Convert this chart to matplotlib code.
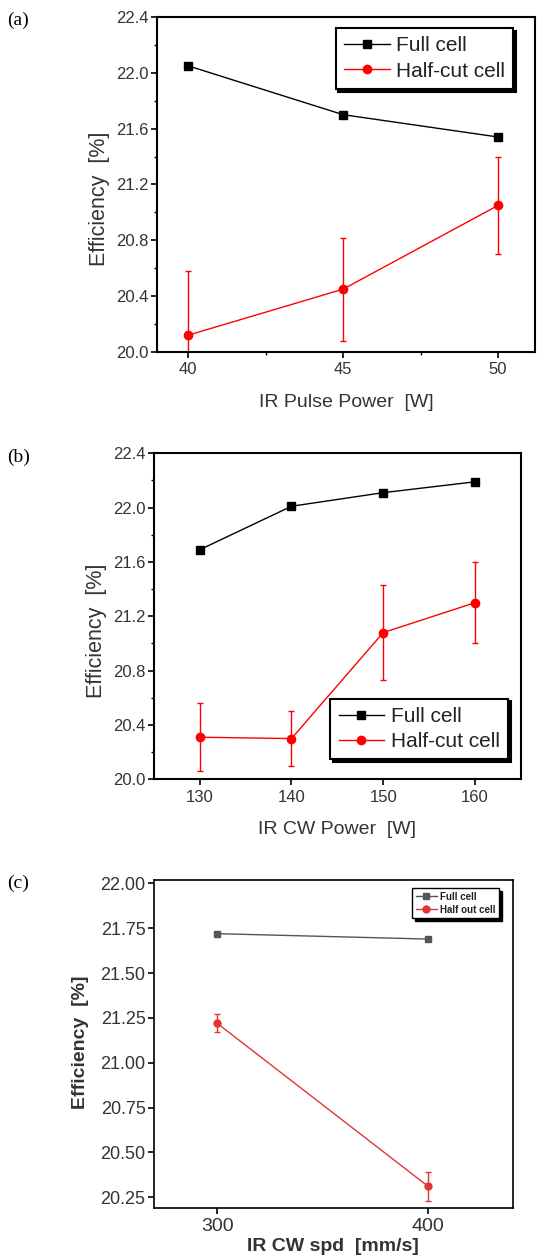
import matplotlib
matplotlib.use("Agg")
import matplotlib.pyplot as plt
from matplotlib.ticker import MultipleLocator, FixedLocator, FormatStrFormatter

plt.rcParams['font.family'] = ['Liberation Sans', 'DejaVu Sans']

# (a) IR pulse power
pulse_power = [40, 45, 50]
pulse_full = [22.05, 21.70, 21.54]
pulse_half = [20.12, 20.45, 21.05]
pulse_half_err = [0.46, 0.37, 0.35]

# (b) IR CW power
cw_power = [130, 140, 150, 160]
cw_full = [21.69, 22.01, 22.11, 22.19]
cw_half = [20.31, 20.30, 21.08, 21.30]
cw_half_err = [0.25, 0.20, 0.35, 0.30]

# (c) IR CW speed
cw_speed = [300, 400]
spd_full = [21.72, 21.69]
spd_half = [21.22, 20.31]
spd_half_err = [0.05, 0.08]

fig = plt.figure(figsize=(5.38, 12.57), dpi=100)


def style_axes(ax, lw=1.5):
    for s in ax.spines.values():
        s.set_linewidth(lw)
    ax.tick_params(axis='both', which='major', direction='out', length=4, width=1.2,
                   labelsize=12, colors='black', labelcolor='#333333')
    ax.tick_params(axis='both', which='minor', direction='out', length=2.5, width=1.0)
    ax.tick_params(axis='y', pad=2)


def add_legend(ax, loc, fontsize, bbox, lw=1.5, bold=False):
    prop = {'size': fontsize, 'weight': 'bold' if bold else 'normal'}
    leg = ax.legend(loc=loc, bbox_to_anchor=bbox, frameon=True,
                    fancybox=False, edgecolor='black', framealpha=1,
                    shadow={'color': 'black', 'alpha': 1}, handlelength=2.2,
                    borderpad=0.4, labelspacing=0.3, handletextpad=0.3,
                    borderaxespad=0, prop=prop)
    leg.get_frame().set_linewidth(lw)
    for t in leg.get_texts():
        t.set_color('#222222')
    return leg


def draw(ax, x, full, half, err, full_color, half_color, ms_full, ms_half, half_label):
    ax.plot(x, full, marker='s', color=full_color, lw=1, ms=ms_full, label='Full cell')
    ax.errorbar(x, half, yerr=err, fmt='none', ecolor=half_color, elinewidth=1, capsize=2)
    ax.plot(x, half, marker='o', color=half_color, lw=1, ms=ms_half, label=half_label)


# ---- (a)
ax1 = fig.add_axes([0.292, 0.720, 0.703, 0.2665])
draw(ax1, pulse_power, pulse_full, pulse_half, pulse_half_err, 'black', 'red', 6, 6,
     'Half-cut cell')
ax1.set_xlim(39, 51.2)
ax1.set_ylim(20.0, 22.4)
ax1.xaxis.set_major_locator(FixedLocator(pulse_power))
ax1.xaxis.set_minor_locator(FixedLocator([42.5, 47.5]))
ax1.yaxis.set_major_locator(MultipleLocator(0.4))
ax1.yaxis.set_minor_locator(MultipleLocator(0.2))
ax1.yaxis.set_major_formatter(FormatStrFormatter('%.1f'))
style_axes(ax1)
ax1.set_xlabel('IR Pulse Power  [W]', fontsize=14, color='#333333', labelpad=12)
ax1.set_ylabel('Efficiency  [%]', fontsize=15.5, color='#333333')
ax1.yaxis.set_label_coords(-0.124, 0.457)
add_legend(ax1, 'upper right', 15, (0.942, 0.967))
fig.text(0.013, 0.984, '(a)', family='Liberation Serif', fontsize=14, va='center')

# ---- (b)
ax2 = fig.add_axes([0.286, 0.380, 0.682, 0.2594])
draw(ax2, cw_power, cw_full, cw_half, cw_half_err, 'black', 'red', 6, 6, 'Half-cut cell')
ax2.set_xlim(125, 165)
ax2.set_ylim(20.0, 22.4)
ax2.xaxis.set_major_locator(FixedLocator(cw_power))
ax2.yaxis.set_major_locator(MultipleLocator(0.4))
ax2.yaxis.set_minor_locator(MultipleLocator(0.2))
ax2.yaxis.set_major_formatter(FormatStrFormatter('%.1f'))
style_axes(ax2)
ax2.set_xlabel('IR CW Power  [W]', fontsize=14, color='#333333', labelpad=12)
ax2.set_ylabel('Efficiency  [%]', fontsize=15.5, color='#333333')
ax2.yaxis.set_label_coords(-0.128, 0.454)
add_legend(ax2, 'lower right', 15, (0.965, 0.061))
fig.text(0.013, 0.636, '(b)', family='Liberation Serif', fontsize=14, va='center')

# ---- (c)
ax3 = fig.add_axes([0.286, 0.039, 0.667, 0.261])
draw(ax3, cw_speed, spd_full, spd_half, spd_half_err, '#555555', '#e03535', 4, 5,
     'Half out cell')
ax3.set_xlim(270, 440)
ax3.set_ylim(20.19, 22.02)
ax3.xaxis.set_major_locator(FixedLocator(cw_speed))
ax3.yaxis.set_major_locator(MultipleLocator(0.25))
ax3.yaxis.set_major_formatter(FormatStrFormatter('%.2f'))
style_axes(ax3, lw=1.2)
ax3.tick_params(axis='x', labelsize=14)
ax3.tick_params(axis='y', labelsize=13)
ax3.set_xlabel('IR CW spd  [mm/s]', fontsize=14, color='#333333', fontweight='bold', labelpad=2)
ax3.set_ylabel('Efficiency  [%]', fontsize=14, color='#333333', fontweight='bold')
ax3.yaxis.set_label_coords(-0.181, 0.506)
add_legend(ax3, 'upper right', 7, (0.963, 0.976), lw=1.0, bold=True)
fig.text(0.013, 0.297, '(c)', family='Liberation Serif', fontsize=14, va='center')

plt.savefig('out.png', dpi=100)
